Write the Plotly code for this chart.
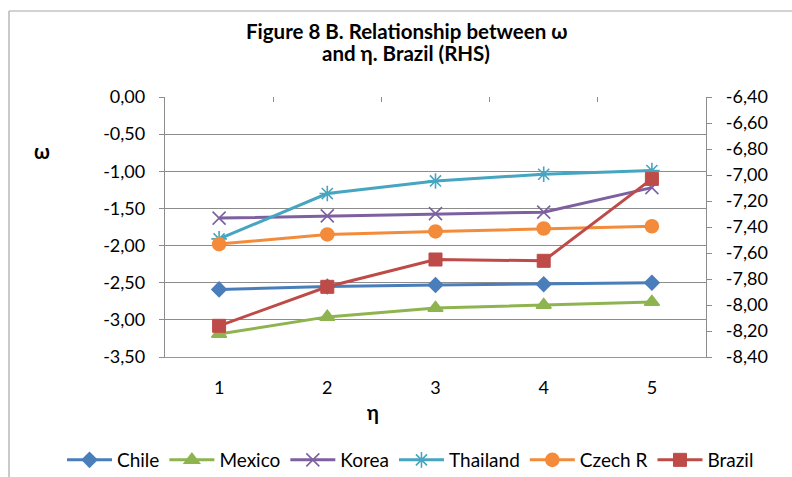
import plotly.graph_objects as go

eta_labels = ["1", "2", "3", "4", "5"]
eta_num = [1, 2, 3, 4, 5]

chile = [-2.59, -2.55, -2.53, -2.52, -2.50]
mexico = [-3.19, -2.96, -2.84, -2.80, -2.76]
korea = [-1.63, -1.60, -1.57, -1.55, -1.22]
thailand = [-1.91, -1.30, -1.13, -1.04, -0.99]
czech = [-1.98, -1.85, -1.81, -1.77, -1.74]
brazil = [-8.16, -7.86, -7.65, -7.66, -7.03]  # right-hand axis

left_ticks = [0.0, -0.5, -1.0, -1.5, -2.0, -2.5, -3.0, -3.5]
right_ticks = [-6.4, -6.6, -6.8, -7.0, -7.2, -7.4, -7.6, -7.8, -8.0, -8.2, -8.4]

title_lines = ["Figure 8 B. Relationship between ω", "and η. Brazil (RHS)"]


def fmt(v):
    return f"{v:.2f}".replace(".", ",")


FONT = "Lato"
W, H = 792, 477
L, R, T, B = 165, 706, 97, 357  # plot-area pixel box


def px(x):
    return (x - L) / (R - L)


def py(y):
    return (B - y) / (B - T)


fig = go.Figure()

series = [
    ("Chile", chile, "#4A7EBB", "diamond", 11),
    ("Mexico", mexico, "#8EB44F", "triangle-up", 13),
    ("Korea", korea, "#7D60A0", "x-thin-open", 13),
    ("Thailand", thailand, "#46A5C0", "asterisk-open", 13),
    ("Czech R", czech, "#F38B3A", "circle", 13),
]
for name, vals, col, sym, size in series:
    fig.add_trace(go.Scatter(
        x=eta_labels, y=vals, name=name, mode="lines+markers",
        line=dict(color=col, width=3),
        marker=dict(symbol=sym, size=size, color=col,
                    line=dict(color=col, width=1.6)),
        xaxis="x", yaxis="y",
    ))

fig.add_trace(go.Scatter(
    x=eta_num, y=brazil, name="Brazil", mode="lines+markers",
    line=dict(color="#BE4B48", width=3),
    marker=dict(symbol="square", size=13, color="#BE4B48",
                line=dict(color="#BE4B48", width=1)),
    xaxis="x2", yaxis="y2",
))

annotations = [
    dict(text=f"<b>{title_lines[0]}</b>", x=px(406), y=py(31)),
    dict(text=f"<b>{title_lines[1]}</b>", x=px(406), y=py(53)),
]
for a in annotations:
    a.update(xref="paper", yref="paper", xanchor="center", yanchor="middle",
             showarrow=False, font=dict(family=FONT, size=20.5, color="#000000"))

annotations += [
    dict(text="<b>ω</b>", x=px(42), y=py(151), xref="paper", yref="paper",
         xanchor="center", yanchor="middle",
         showarrow=False, font=dict(family=FONT, size=20)),
    dict(text="<b>η</b>", x=px(373), y=py(412), xref="paper", yref="paper",
         xanchor="center", yanchor="middle",
         showarrow=False, font=dict(family=FONT, size=20)),
]

fig.update_layout(
    width=W, height=H, autosize=False,
    margin=dict(l=L, r=W - R, t=T, b=H - B, autoexpand=False),
    paper_bgcolor="white", plot_bgcolor="white",
    font=dict(family=FONT, size=18, color="#000000"),
    showlegend=True,
    xaxis=dict(
        type="category", range=[-0.5, 4.5],
        showline=True, linecolor="#7A9CC6", linewidth=1.3,
        showgrid=False, zeroline=False,
        ticks="outside", ticklen=14, tickcolor="rgba(0,0,0,0)",
        tickfont=dict(family=FONT, size=18),
    ),
    xaxis2=dict(
        overlaying="x", side="top", anchor="y",
        range=[0.5, 5.5], tickvals=[1.5, 2.5, 3.5, 4.5],
        ticks="inside", ticklen=5, tickcolor="#8C8C8C",
        showticklabels=False, showgrid=False, zeroline=False, showline=False,
    ),
    yaxis=dict(
        range=[-3.5, 0],
        tickvals=left_ticks, ticktext=[fmt(v) for v in left_ticks],
        showline=True, linecolor="#8C8C8C", linewidth=1.3,
        showgrid=True, gridcolor="#8C8C8C", gridwidth=1,
        zeroline=False,
        ticks="outside", ticklen=5, tickcolor="#8C8C8C",
        ticklabelstandoff=10,
        tickfont=dict(family=FONT, size=18),
    ),
    yaxis2=dict(
        overlaying="y", side="right", anchor="x",
        range=[-8.4, -6.4],
        tickvals=right_ticks, ticktext=[fmt(v) for v in right_ticks],
        showline=True, linecolor="#8C8C8C", linewidth=1.3,
        showgrid=False, zeroline=False,
        ticks="outside", ticklen=5, tickcolor="#8C8C8C",
        ticklabelstandoff=10,
        tickfont=dict(family=FONT, size=18),
    ),
    legend=dict(
        orientation="h", x=px(62), xanchor="left",
        y=py(460), yanchor="middle",
        font=dict(family=FONT, size=19),
        itemwidth=45, traceorder="normal",
        bgcolor="rgba(0,0,0,0)",
    ),
    annotations=annotations,
    shapes=[
        dict(type="line", xref="paper", yref="paper",
             x0=px(9), x1=px(9), y0=py(480), y1=py(11),
             line=dict(color="#A6A6A6", width=1.2)),
        dict(type="line", xref="paper", yref="paper",
             x0=px(9), x1=px(795), y0=py(11), y1=py(11),
             line=dict(color="#A6A6A6", width=1.2)),
    ],
)

fig.write_html(
    "out.html",
    config={"displayModeBar": False},
    post_script="document.body.style.margin='0';"
                "document.documentElement.style.overflow='hidden';",
)
